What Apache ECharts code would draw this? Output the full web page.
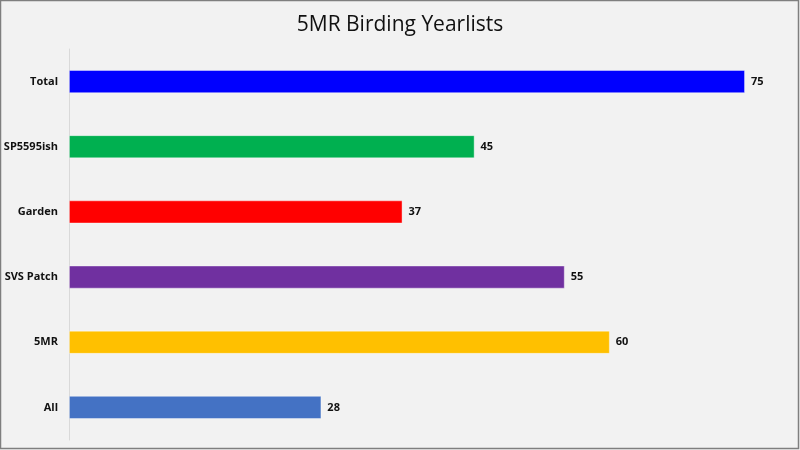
<!DOCTYPE html>
<html>
<head>
<meta charset="utf-8">
<script src="https://cdn.jsdelivr.net/npm/echarts@6/dist/echarts.min.js"></script>
<style>
html,body{margin:0;padding:0;background:#f2f2f2;}
#chart{width:800px;height:450px;}
</style>
</head>
<body>
<div id="chart"></div>
<script>
const categories = ["Total", "SP5595ish", "Garden", "SVS Patch", "5MR", "All"];
const values = [75, 45, 37, 55, 60, 28];
const colors = ["#0000FF", "#00B050", "#FF0000", "#7030A0", "#FFC000", "#4472C4"];

const chart = echarts.init(document.getElementById('chart'));
chart.setOption({
  backgroundColor: '#f2f2f2',
  animation: false,
  title: {
    text: '5MR Birding Yearlists',
    left: 'center',
    top: 10,
    textStyle: { fontFamily: 'Open Sans', fontSize: 21, fontWeight: 'normal', color: '#111' }
  },
  graphic: [{
    type: 'rect',
    shape: { x: 0.5, y: 0.5, width: 798, height: 448 },
    style: { fill: 'none', stroke: '#7f7f7f', lineWidth: 1.5 },
    silent: true
  }],
  grid: { left: 69, right: 10, top: 49, bottom: 10 },
  xAxis: {
    type: 'value',
    min: 0, max: 80,
    show: false
  },
  yAxis: {
    type: 'category',
    inverse: true,
    data: categories,
    axisLine: { show: true, lineStyle: { color: '#d9d9d9', width: 1 } },
    axisTick: { show: false },
    axisLabel: { fontFamily: 'Open Sans', fontSize: 11, fontWeight: 'bold', color: '#111', margin: 11 }
  },
  series: [{
    type: 'bar',
    barWidth: 23,
    data: values.map((v, i) => ({ value: v, itemStyle: { color: colors[i] } })),
    itemStyle: { borderColor: 'rgba(255,255,255,0.5)', borderWidth: 0.8 },
    label: {
      show: true,
      position: 'right',
      distance: 6,
      fontFamily: 'Open Sans',
      fontSize: 11,
      fontWeight: 'bold',
      color: '#111'
    }
  }]
});
</script>
</body>
</html>
